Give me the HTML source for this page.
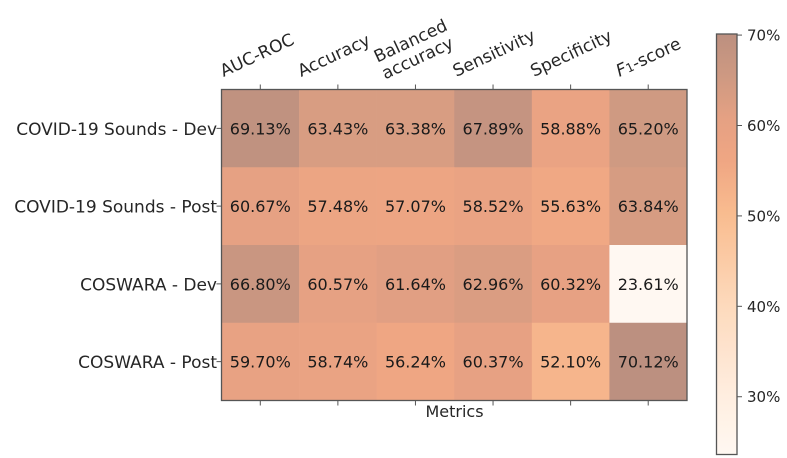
<!DOCTYPE html>
<html lang="en">
<head>
<meta charset="utf-8">
<title>Metrics heatmap</title>
<style>
html,body{margin:0;padding:0;background:#fff;width:787px;height:458px;overflow:hidden}
svg{display:block;filter:blur(0.3px)}
text{fill:#262626}
.dv{font-family:"DejaVu Sans",sans-serif}
</style>
</head>
<body>
<svg id="chart" xmlns="http://www.w3.org/2000/svg" width="787" height="458" viewBox="0 0 787 458"></svg>
<script>
const rowLabels = ["COVID-19 Sounds - Dev", "COVID-19 Sounds - Post", "COSWARA - Dev", "COSWARA - Post"];
const colLabels = [["AUC-ROC"], ["Accuracy"], ["Balanced", "accuracy"], ["Sensitivity"], ["Specificity"], ["F1-score"]];
const row0 = [69.13, 63.43, 63.38, 67.89, 58.88, 65.20];
const row1 = [60.67, 57.48, 57.07, 58.52, 55.63, 63.84];
const row2 = [66.80, 60.57, 61.64, 62.96, 60.32, 23.61];
const row3 = [59.70, 58.74, 56.24, 60.37, 52.10, 70.12];
const cbTicks = [70, 60, 50, 40, 30];

const svg = document.getElementById('chart');
const NS = 'http://www.w3.org/2000/svg';
const rows = [row0, row1, row2, row3];
const all = rows.flat();
const vMin = Math.min(...all), vMax = Math.max(...all);
const plot = {l: 221.5, r: 687, t: 89.5, b: 400.5};
const cb = {l: 716.5, r: 737, t: 34, b: 454.5};
const ramp = [[0, '#fff8f2'], [0.137, '#ffeee0'], [0.352, '#fddabd'], [0.567, '#f9bd90'], [0.7, '#efa683'], [0.797, '#e6a183'], [0.89, '#d09a82'], [1, '#bc9080']];
const labelX = [3, 3, 9.5, 3, 3, 11];
const labelY = [0, 0, 2.5, 0, 0, 0];

function hex(c) { return [1, 3, 5].map(i => parseInt(c.substr(i, 2), 16)); }
function color(v) {
  const t = Math.max(0, Math.min(1, (v - vMin) / (vMax - vMin)));
  for (let i = 1; i < ramp.length; i++) {
    if (t <= ramp[i][0]) {
      const a = ramp[i - 1], b = ramp[i], f = (t - a[0]) / (b[0] - a[0]);
      const ca = hex(a[1]), cb2 = hex(b[1]);
      return 'rgb(' + ca.map((x, k) => Math.round(x + (cb2[k] - x) * f)).join(',') + ')';
    }
  }
  return ramp[ramp.length - 1][1];
}
function xScale(i) { return plot.l + (plot.r - plot.l) * i / colLabels.length; }
function yScale(i) { return plot.t + (plot.b - plot.t) * i / rowLabels.length; }
function cbScale(v) { return cb.b - (cb.b - cb.t) * (v - vMin) / (70.12 - vMin); }
function el(tag, attrs, parent) {
  const e = document.createElementNS(NS, tag);
  for (const k in attrs) e.setAttribute(k, attrs[k]);
  (parent || svg).appendChild(e);
  return e;
}

// heatmap cells and printed values
rows.forEach((row, r) => {
  row.forEach((v, c) => {
    const cell = el('rect', {x: xScale(c), y: yScale(r), width: xScale(c + 1) - xScale(c) + 0.3, height: yScale(r + 1) - yScale(r) + 0.3, fill: color(v)});
    
    
    const t = el('text', {x: (xScale(c) + xScale(c + 1)) / 2, y: (yScale(r) + yScale(r + 1)) / 2 + 6, 'text-anchor': 'middle', class: 'dv', 'font-size': 16, style: 'fill:#1a1a1a'});
    t.textContent = v.toFixed(2) + '%';
    
    
  });
});

// plot frame
const frame = el('rect', {x: plot.l, y: plot.t, width: plot.r - plot.l, height: plot.b - plot.t, fill: 'none', stroke: '#555', 'stroke-width': 1.3});



// row labels and y ticks
rowLabels.forEach((label, r) => {
  const y = (yScale(r) + yScale(r + 1)) / 2;
  const tick = el('line', {x1: plot.l - 5, x2: plot.l, y1: y, y2: y, stroke: '#555', 'stroke-width': 1});
  
  
  const t = el('text', {x: plot.l - 4.5, y: y + 6.5, 'text-anchor': 'end', class: 'dv', 'font-size': 17});
  t.textContent = label;
  
  
});

// column labels and x ticks
colLabels.forEach((lines, c) => {
  const x = (xScale(c) + xScale(c + 1)) / 2;
  [[plot.t - 5, plot.t], [plot.b, plot.b + 5]].forEach(p => {
    const tick = el('line', {x1: x, x2: x, y1: p[0], y2: p[1], stroke: '#555', 'stroke-width': 1});
    
    
  });
  const ax = xScale(c) - 1 + labelX[c];
  const ay = 77 + labelY[c];
  const g = el('g', {transform: 'translate(' + ax + ',' + ay + ') rotate(-25)'});
  
  
  lines.forEach((line, i) => {
    const t = el('text', {x: 0, y: (i - lines.length + 1) * 18.5, class: 'dv', 'font-size': 17}, g);
    if (line === 'F1-score') {
      const a = el('tspan', {'font-style': 'italic'}, t); a.textContent = 'F';
      const b = el('tspan', {'font-size': 12}, t); b.textContent = '1';
      const d = el('tspan', {}, t); d.textContent = '-score';
    } else {
      t.textContent = line;
    }
  });
});

const xTitle = el('text', {x: 454.5, y: 417, 'text-anchor': 'middle', class: 'dv', 'font-size': 16});
xTitle.textContent = 'Metrics';



// colour bar
const defs = el('defs', {});
const grad = el('linearGradient', {id: 'cbGrad', x1: 0, y1: 1, x2: 0, y2: 0}, defs);
for (let i = 0; i <= 40; i++) {
  el('stop', {offset: i / 40, 'stop-color': color(vMin + (vMax - vMin) * i / 40)}, grad);
}
const bar = el('rect', {x: cb.l, y: cb.t, width: cb.r - cb.l, height: cb.b - cb.t, fill: 'url(#cbGrad)', stroke: '#555', 'stroke-width': 1.3});


cbTicks.forEach(v => {
  const y = cbScale(v);
  const tick = el('line', {x1: cb.r, x2: cb.r + 5, y1: y, y2: y, stroke: '#555', 'stroke-width': 1});
  
  
  const t = el('text', {x: cb.r + 10, y: y + 5.5, class: 'dv', 'font-size': 15});
  t.textContent = v + '%';
  
  
});
</script>
</body>
</html>
